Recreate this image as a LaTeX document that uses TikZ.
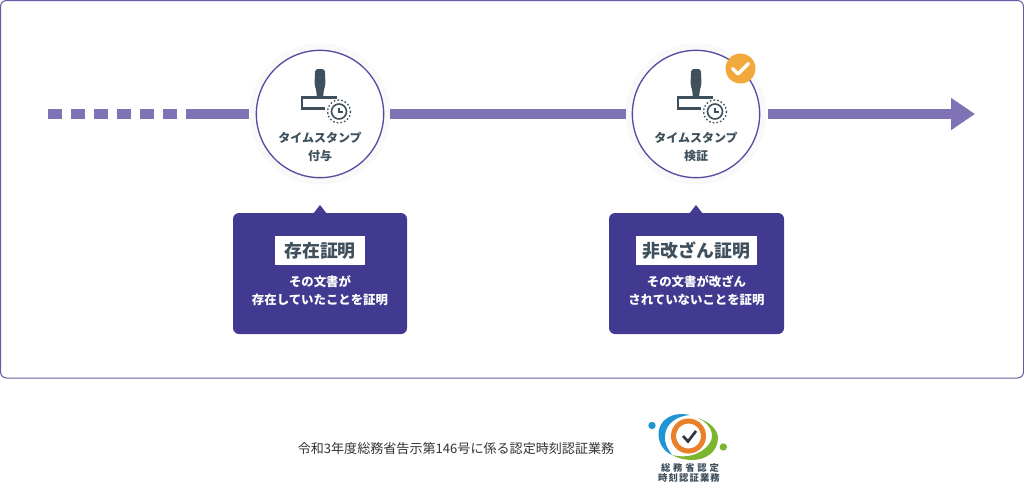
\documentclass[tikz,border=0pt]{standalone}
\usepackage{fontspec}
\setmainfont{Noto Sans CJK JP}
\usetikzlibrary{arrows.meta}
\definecolor{lineP}{HTML}{7F72B5}
\definecolor{frameP}{HTML}{6A5AA6}
\definecolor{ringP}{HTML}{5B4BA0}
\definecolor{boxP}{HTML}{423A90}
\definecolor{inkG}{HTML}{3F505C}
\definecolor{tick}{HTML}{F2A93B}
\definecolor{logoB}{HTML}{1F96D2}
\definecolor{logoG}{HTML}{7DB52F}
\definecolor{logoO}{HTML}{E8812A}
\tikzset{
  x=0.75pt,y=-0.75pt,
  panel/.style={draw=frameP,line width=0.75pt,fill=white,rounded corners=4.5pt},
  axis/.style={draw=lineP,line width=7.5pt},
  halo/.style={circle,draw=none,fill=black!2.5,minimum size=106pt,inner sep=0},
  ring/.style={circle,draw=ringP,line width=1pt,fill=white,minimum size=95.5pt,inner sep=0},
  steplabel/.style={align=center,text=inkG,font=\fontsize{9pt}{13.5pt}\selectfont\bfseries},
  callout/.style={fill=boxP,rounded corners=4.5pt},
  calltitle/.style={fill=white,text=inkG,font=\fontsize{13.4pt}{15pt}\selectfont\bfseries,inner sep=0,minimum height=21.5pt},
  calltext/.style={align=center,text=white,font=\fontsize{9.3pt}{13.5pt}\selectfont\bfseries},
  plain/.style={text=black!80,font=\fontsize{9.8pt}{12pt}\selectfont},
}
\newcommand{\stampicon}[2]{%
  \begin{scope}[shift={(#1,#2)}]
    \fill[inkG,rounded corners=2pt] (-4.8,-35) -- (4.8,-35) -- (5.5,-20) -- (3.4,-12) -- (3.4,-6) -- (-3.4,-6) -- (-3.4,-12) -- (-5.5,-20) -- cycle;
    \draw[inkG,line width=1.8pt] (17,-6.5) -- (-18,-6.5) -- (-18,4.5) -- (5,4.5);
    \draw[inkG,line width=1.2pt,fill=white] (19,7.5) circle[radius=7.5];
    \draw[inkG,line width=1pt,dash pattern=on 1.2pt off 1.6pt] (19,7.5) circle[radius=11.5];
    \draw[inkG,line width=1pt] (19,3.5) -- (19,8) -- (23,8);
  \end{scope}}
\begin{document}
\begin{tikzpicture}
\useasboundingbox (0,0) rectangle (1024,482);
\fill[white] (0,0) rectangle (1024,482);
\draw[panel] (0.5,0.5) rectangle (1023.5,378);
% nodes
\node[halo] at (320,114) {};
\node[halo] at (696,114) {};
\node[ring] (stepA) at (320,114) {};
\node[ring] (stepB) at (696,114) {};
\coordinate (start) at (48,114);
\coordinate (dashEnd) at (186,114);
\coordinate (tipEnd) at (975,114);
% connectors
\draw[axis,dash pattern=on 10.5pt off 6.75pt] (start) -- (dashEnd);
\draw[axis] (dashEnd) -- ([xshift=-5pt]stepA.west);
\draw[axis] ([xshift=4.5pt]stepA.east) -- ([xshift=-4.5pt]stepB.west);
\draw[axis,-{Triangle[length=18pt,width=23pt]}] ([xshift=5.5pt]stepB.east) -- (tipEnd);
% icons
\stampicon{320}{104}
\stampicon{696}{104}
\node[steplabel] (labelA) at (320,147) {タイムスタンプ\\付与};
\node[steplabel] (labelB) at (696,147) {タイムスタンプ\\検証};
% check badge
\node[circle,fill=tick,minimum size=22.5pt,inner sep=0] (badge) at (740.5,68.5) {};
\draw[white,line width=2.6pt,line cap=round,line join=round] (732.5,68.5) -- (738,74) -- (748.5,63.5);
% callouts
\fill[callout] (233,213) rectangle (407,334);
\fill[boxP] (313,214) -- (320,205) -- (327,214) -- cycle;
\fill[callout] (609,213) rectangle (784,334);
\fill[boxP] (689,214) -- (696,205) -- (703,214) -- cycle;
\node[calltitle,minimum width=67.5pt] (titleA) at (320,250.5) {存在証明};
\node[calltitle,minimum width=91pt] (titleB) at (696.5,250.5) {非改ざん証明};
\node[calltext] (textA) at (320,291) {その文書が\\存在していたことを証明};
\node[calltext] (textB) at (696.5,291) {その文書が改ざん\\されていないことを証明};
% footer
\node[plain] (note) at (456,449) {令和3年度総務省告示第146号に係る認定時刻認証業務};
% logo
\fill[logoB] (652,425.5) circle[radius=3.7];
\fill[logoG] (723.3,447) circle[radius=3.7];
\fill[logoB] (690,415) .. controls (672,411) and (658,420) .. (658.5,435) .. controls (659,445) and (665,452) .. (672,455) .. controls (667,448) and (664,442) .. (665,435) .. controls (666,424) and (676,416) .. (690,415) -- cycle;
\fill[logoG] (698,418) .. controls (710,422) and (718,430) .. (718,438) .. controls (718,452) and (705,460) .. (693,460) .. controls (685,460) and (677,458) .. (672,455) .. controls (680,457) and (690,457) .. (698,453) .. controls (708,448) and (713,440) .. (712,434) .. controls (711,427) and (705,421) .. (698,418) -- cycle;
\draw[logoO,line width=3.8pt,fill=white] (688.5,436) circle[radius=15];
\draw[inkG!70!black,line width=2pt] (683,436) -- (688,441.5) -- (696,431);
\node[text=inkG,inner sep=0,font=\fontsize{7pt}{7pt}\selectfont\bfseries\addfontfeature{LetterSpace=30}] (logoTextA) at (690,467.5) {総務省認定};
\node[text=inkG,inner sep=0,font=\fontsize{7pt}{7pt}\selectfont\bfseries\addfontfeature{LetterSpace=12}] (logoTextB) at (689,478) {時刻認証業務};
\end{tikzpicture}
\end{document}
